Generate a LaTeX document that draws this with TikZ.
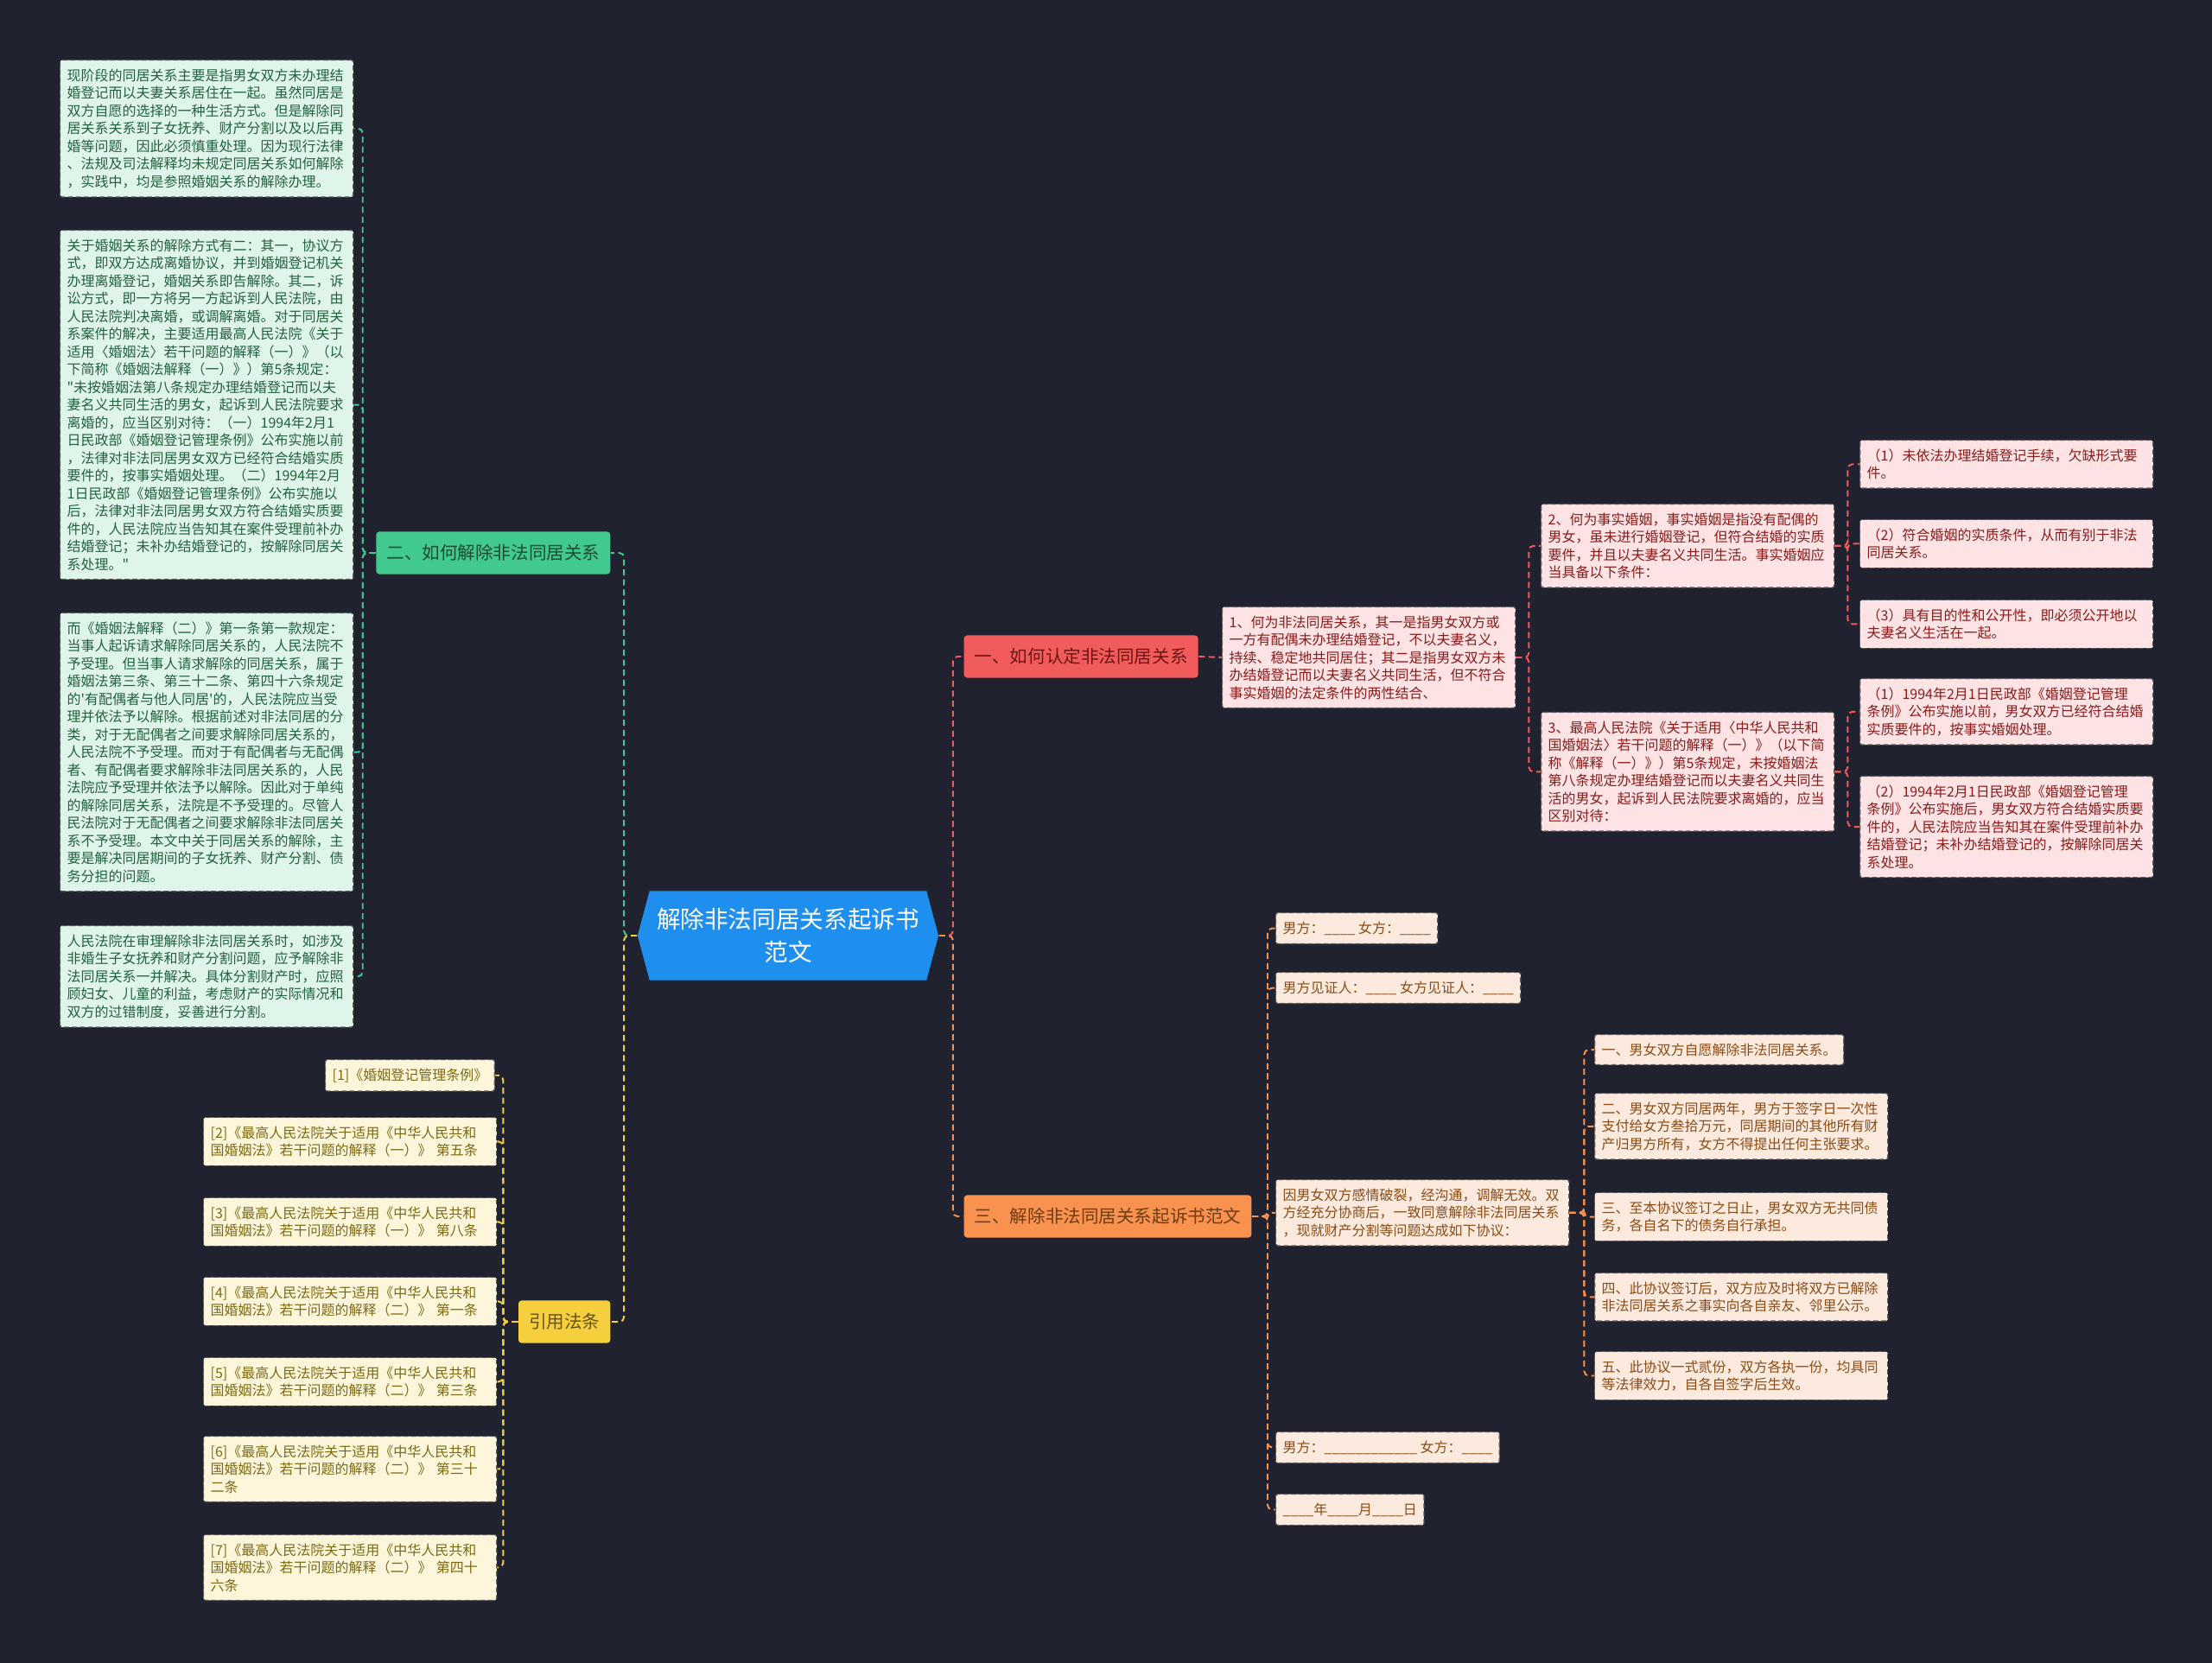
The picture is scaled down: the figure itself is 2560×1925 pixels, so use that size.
\documentclass[tikz,border=0pt]{standalone}
\usepackage{fontspec}
\setmainfont{Noto Sans CJK SC}
\newfontfamily\cjk{Noto Sans CJK SC}
\usepackage{tikz}
\usetikzlibrary{shapes.symbols}

\definecolor{bgdark}{HTML}{20232F}
\definecolor{rootblue}{HTML}{1E8FEF}
\definecolor{redB}{HTML}{F25B5B}
\definecolor{orangeB}{HTML}{F9914F}
\definecolor{greenB}{HTML}{41C98F}
\definecolor{yellowB}{HTML}{F6CF3E}
\definecolor{redL}{HTML}{FDE3E3}
\definecolor{peachL}{HTML}{FDEADF}
\definecolor{greenL}{HTML}{DFF5EA}
\definecolor{yellowL}{HTML}{FDF6DA}
\definecolor{redT}{HTML}{8B1A1A}
\definecolor{orangeT}{HTML}{8A4B14}
\definecolor{peachT}{HTML}{8A4B14}
\definecolor{greenT}{HTML}{23603F}
\definecolor{yellowT}{HTML}{7D6A12}

\newcommand{\leaffont}{\cjk\fontsize{4.55pt}{5.83pt}\selectfont}
\newcommand{\branchfont}{\cjk\fontsize{5.85pt}{7pt}\selectfont}
\newcommand{\rootfont}{\cjk\fontsize{7.85pt}{10.6pt}\selectfont}

\tikzset{
  leafbox/.style={anchor=north west, inner xsep=0.08cm, inner ysep=0.1cm,
    align=left, font=\leaffont, draw=black!65, line width=0.35pt,
    dash pattern=on 1.6pt off 1pt, rounded corners=0.5pt},
  wide/.style={text width=3.23cm},
  greenleaf/.style={leafbox, fill=greenL, text=greenT},
  redleaf/.style={leafbox, fill=redL, text=redT},
  peachleaf/.style={leafbox, fill=peachL, text=peachT},
  yellowleaf/.style={leafbox, fill=yellowL, text=yellowT},
  branch/.style={font=\branchfont, fill=#1B, text=#1T!80!black,
    minimum height=0.49cm, inner xsep=0.12cm, rounded corners=1pt},
  conn/.style={draw=#1, line width=0.55pt, dash pattern=on 2pt off 1.3pt,
    rounded corners=1.5pt}
}

\begin{document}
\begin{tikzpicture}[x=0.01cm, y=-0.01cm]
  \fill[bgdark] (0,0) rectangle (2560,1925);
  \useasboundingbox (0,0) rectangle (2560,1925);

  \node[shape=signal, signal to=east and west, signal pointer angle=150,
    fill=rootblue, text=white, font=\rootfont, align=center,
    minimum width=3.48cm, minimum height=1.03cm, inner sep=0pt]
    (root) at (912,1083) {解除非法同居关系起诉书\\范文};

  \node[branch=red, anchor=west] (b1) at (1115,760) {一、如何认定非法同居关系};
  \node[branch=orange, anchor=west] (b3) at (1115,1408) {三、解除非法同居关系起诉书范文};
  \node[branch=green, anchor=east] (b2) at (707,640) {二、如何解除非法同居关系};
  \node[branch=yellow, anchor=east] (b4) at (707,1530) {引用法条};

  \draw[conn=redB] (root.east) -- ++(16,0) |- (b1.west);
  \draw[conn=orangeB] (root.east) -- ++(16,0) |- (b3.west);
  \draw[conn=greenB] (root.west) -- ++(-15,0) |- (b2.east);
  \draw[conn=yellowB] (root.west) -- ++(-15,0) |- (b4.east);

  % 二
  \node[greenleaf, wide] (g1) at (69,69) {现阶段的同居关系主要是指男女双方未办理结\\婚登记而以夫妻关系居住在一起。虽然同居是\\双方自愿的选择的一种生活方式。但是解除同\\居关系关系到子女抚养、财产分割以及以后再\\婚等问题，因此必须慎重处理。因为现行法律\\、法规及司法解释均未规定同居关系如何解除\\，实践中，均是参照婚姻关系的解除办理。};
  \node[greenleaf, wide] (g2) at (69,266) {关于婚姻关系的解除方式有二：其一，协议方\\式，即双方达成离婚协议，并到婚姻登记机关\\办理离婚登记，婚姻关系即告解除。其二，诉\\讼方式，即一方将另一方起诉到人民法院，由\\人民法院判决离婚，或调解离婚。对于同居关\\系案件的解决，主要适用最高人民法院《关于\\适用〈婚姻法〉若干问题的解释（一）》（以\\下简称《婚姻法解释（一）》）第5条规定：\\"未按婚姻法第八条规定办理结婚登记而以夫\\妻名义共同生活的男女，起诉到人民法院要求\\离婚的，应当区别对待：（一）1994年2月1\\日民政部《婚姻登记管理条例》公布实施以前\\，法律对非法同居男女双方已经符合结婚实质\\要件的，按事实婚姻处理。（二）1994年2月\\1日民政部《婚姻登记管理条例》公布实施以\\后，法律对非法同居男女双方符合结婚实质要\\件的，人民法院应当告知其在案件受理前补办\\结婚登记；未补办结婚登记的，按解除同居关\\系处理。"};
  \node[greenleaf, wide] (g3) at (69,709) {而《婚姻法解释（二）》第一条第一款规定：\\当事人起诉请求解除同居关系的，人民法院不\\予受理。但当事人请求解除的同居关系，属于\\婚姻法第三条、第三十二条、第四十六条规定\\的'有配偶者与他人同居'的，人民法院应当受\\理并依法予以解除。根据前述对非法同居的分\\类，对于无配偶者之间要求解除同居关系的，\\人民法院不予受理。而对于有配偶者与无配偶\\者、有配偶者要求解除非法同居关系的，人民\\法院应予受理并依法予以解除。因此对于单纯\\的解除同居关系，法院是不予受理的。尽管人\\民法院对于无配偶者之间要求解除非法同居关\\系不予受理。本文中关于同居关系的解除，主\\要是解决同居期间的子女抚养、财产分割、债\\务分担的问题。};
  \node[greenleaf, wide] (g4) at (69,1071) {人民法院在审理解除非法同居关系时，如涉及\\非婚生子女抚养和财产分割问题，应予解除非\\法同居关系一并解决。具体分割财产时，应照\\顾妇女、儿童的利益，考虑财产的实际情况和\\双方的过错制度，妥善进行分割。};
  \foreach \n in {g1,g2,g3,g4}
    \draw[conn=greenB] (b2.west) -- ++(-15,0) |- (\n.east);

  % 引用法条
  \node[yellowleaf] (c1) at (376,1226) {[1]《婚姻登记管理条例》};
  \node[yellowleaf, wide] (c2) at (235,1293) {[2]《最高人民法院关于适用《中华人民共和\\国婚姻法》若干问题的解释（一）》 第五条};
  \node[yellowleaf, wide] (c3) at (235,1386) {[3]《最高人民法院关于适用《中华人民共和\\国婚姻法》若干问题的解释（一）》 第八条};
  \node[yellowleaf, wide] (c4) at (235,1478) {[4]《最高人民法院关于适用《中华人民共和\\国婚姻法》若干问题的解释（二）》 第一条};
  \node[yellowleaf, wide] (c5) at (235,1571) {[5]《最高人民法院关于适用《中华人民共和\\国婚姻法》若干问题的解释（二）》 第三条};
  \node[yellowleaf, wide] (c6) at (235,1662) {[6]《最高人民法院关于适用《中华人民共和\\国婚姻法》若干问题的解释（二）》 第三十\\二条};
  \node[yellowleaf, wide] (c7) at (235,1776) {[7]《最高人民法院关于适用《中华人民共和\\国婚姻法》若干问题的解释（二）》 第四十\\六条};
  \foreach \n in {c1,c2,c3,c4,c5,c6,c7}
    \draw[conn=yellowB] (b4.west) -- ++(-17,0) |- (\n.east);

  % 一
  \node[redleaf, wide, anchor=west] (r1) at (1414,761) {1、何为非法同居关系，其一是指男女双方或\\一方有配偶未办理结婚登记，不以夫妻名义，\\持续、稳定地共同居住；其二是指男女双方未\\办结婚登记而以夫妻名义共同生活，但不符合\\事实婚姻的法定条件的两性结合、};
  \node[redleaf, wide] (r2) at (1783,583) {2、何为事实婚姻，事实婚姻是指没有配偶的\\男女，虽未进行婚姻登记，但符合结婚的实质\\要件，并且以夫妻名义共同生活。事实婚姻应\\当具备以下条件：};
  \node[redleaf, wide] (r3) at (1783,824) {3、最高人民法院《关于适用〈中华人民共和\\国婚姻法〉若干问题的解释（一）》（以下简\\称《解释（一）》）第5条规定，未按婚姻法\\第八条规定办理结婚登记而以夫妻名义共同生\\活的男女，起诉到人民法院要求离婚的，应当\\区别对待：};
  \node[redleaf, wide] (r2a) at (2152,509) {（1）未依法办理结婚登记手续，欠缺形式要\\件。};
  \node[redleaf, wide] (r2b) at (2152,601) {（2）符合婚姻的实质条件，从而有别于非法\\同居关系。};
  \node[redleaf, wide] (r2c) at (2152,694) {（3）具有目的性和公开性，即必须公开地以\\夫妻名义生活在一起。};
  \node[redleaf, wide] (r3a) at (2152,785) {（1）1994年2月1日民政部《婚姻登记管理\\条例》公布实施以前，男女双方已经符合结婚\\实质要件的，按事实婚姻处理。};
  \node[redleaf, wide] (r3b) at (2152,898) {（2）1994年2月1日民政部《婚姻登记管理\\条例》公布实施后，男女双方符合结婚实质要\\件的，人民法院应当告知其在案件受理前补办\\结婚登记；未补办结婚登记的，按解除同居关\\系处理。};
  \draw[conn=redB] (b1.east) -- (r1.west);
  \foreach \n in {r2,r3}
    \draw[conn=redB] (r1.east) -- ++(15,0) |- (\n.west);
  \foreach \n in {r2a,r2b,r2c}
    \draw[conn=redB] (r2.east) -- ++(15,0) |- (\n.west);
  \foreach \n in {r3a,r3b}
    \draw[conn=redB] (r3.east) -- ++(15,0) |- (\n.west);

  % 三
  \node[peachleaf] (o1) at (1476,1056) {男方：\_\_\_\_\ 女方：\_\_\_\_};
  \node[peachleaf] (o2) at (1476,1125) {男方见证人：\_\_\_\_\ 女方见证人：\_\_\_\_};
  \node[peachleaf, wide] (o3) at (1476,1365) {因男女双方感情破裂，经沟通，调解无效。双\\方经充分协商后，一致同意解除非法同居关系\\，现就财产分割等问题达成如下协议：};
  \node[peachleaf] (o4) at (1476,1657) {男方：\_\_\_\_\_\_\_\_\_\_\_\_\ 女方：\_\_\_\_};
  \node[peachleaf] (o5) at (1476,1729) {\_\_\_\_年\_\_\_\_月\_\_\_\_日};
  \node[peachleaf] (p1) at (1845,1197) {一、男女双方自愿解除非法同居关系。};
  \node[peachleaf, wide] (p2) at (1845,1265) {二、男女双方同居两年，男方于签字日一次性\\支付给女方叁拾万元，同居期间的其他所有财\\产归男方所有，女方不得提出任何主张要求。};
  \node[peachleaf, wide] (p3) at (1845,1380) {三、至本协议签订之日止，男女双方无共同债\\务，各自名下的债务自行承担。};
  \node[peachleaf, wide] (p4) at (1845,1473) {四、此协议签订后，双方应及时将双方已解除\\非法同居关系之事实向各自亲友、邻里公示。};
  \node[peachleaf, wide] (p5) at (1845,1564) {五、此协议一式贰份，双方各执一份，均具同\\等法律效力，自各自签字后生效。};
  \foreach \n in {o1,o2,o3,o4,o5}
    \draw[conn=orangeB] (b3.east) -- ++(18,0) |- (\n.west);
  \foreach \n in {p1,p2,p3,p4,p5}
    \draw[conn=orangeB] (o3.east) -- ++(17,0) |- (\n.west);
\end{tikzpicture}
\end{document}
